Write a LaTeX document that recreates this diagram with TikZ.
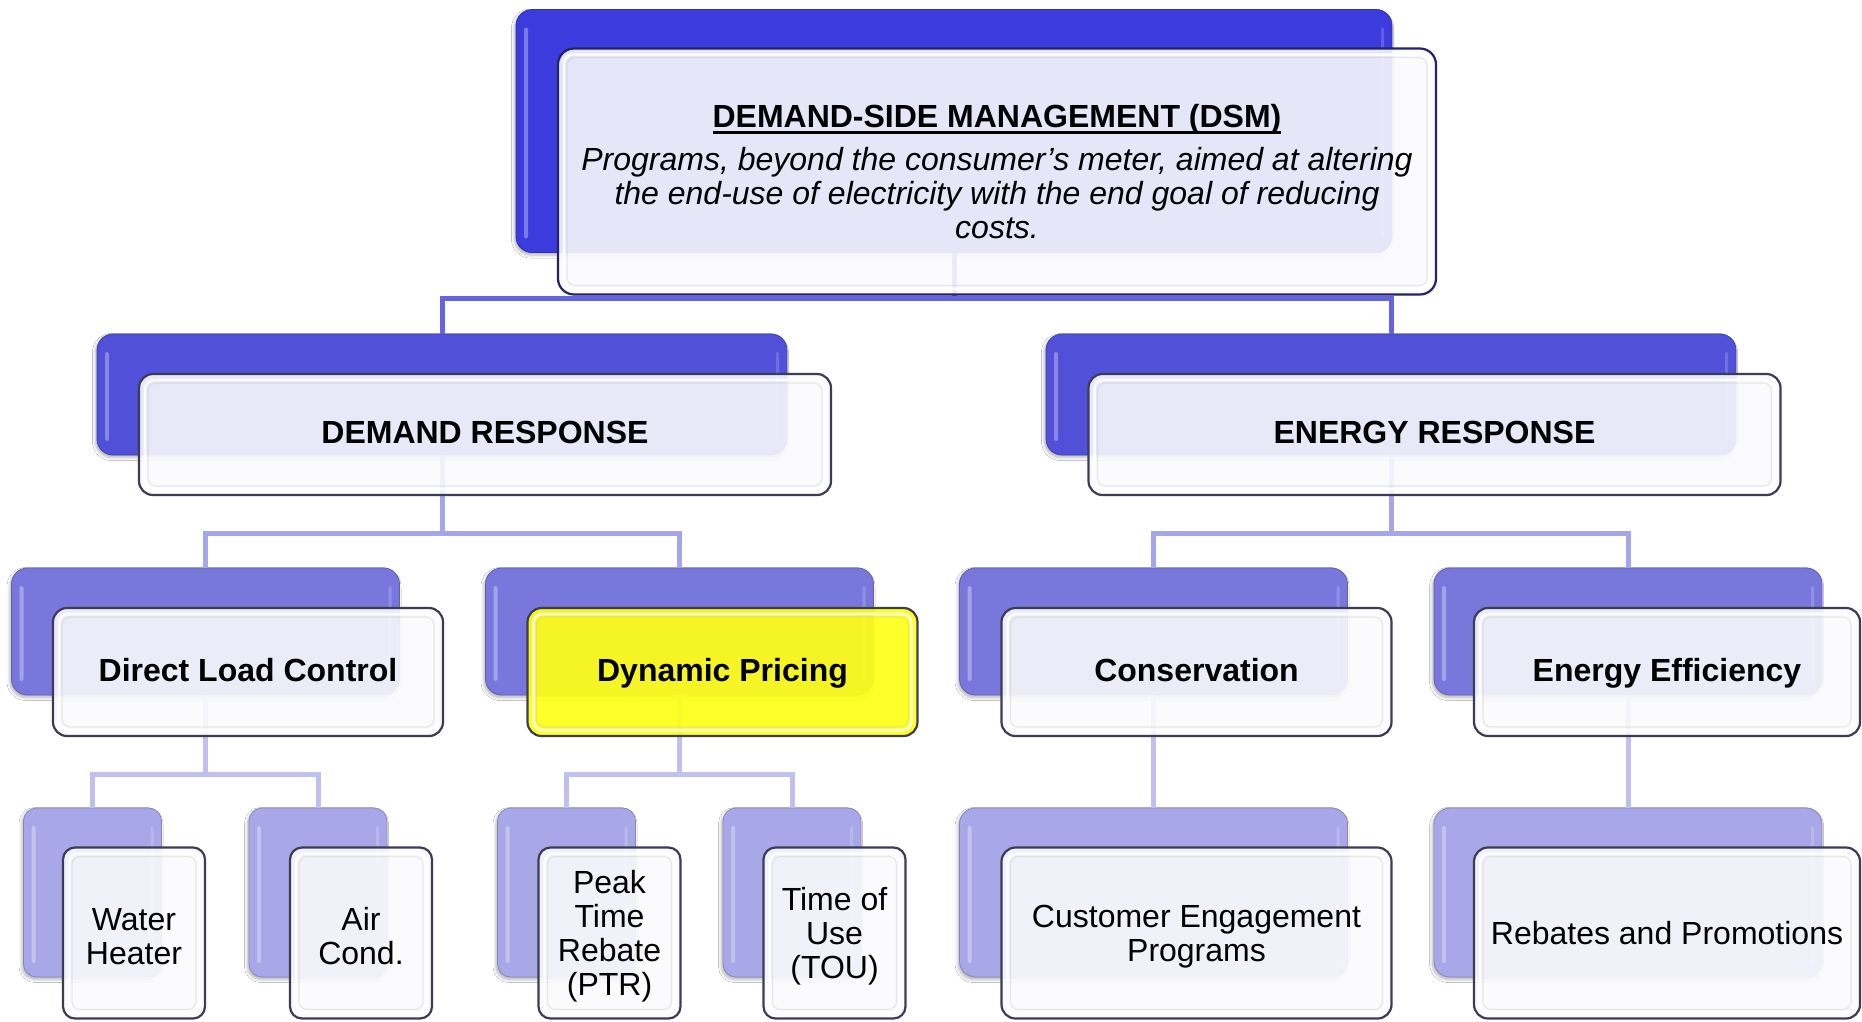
\documentclass[tikz,border=0pt]{standalone}
\usepackage{fontspec}
\setmainfont{Liberation Sans}
\usetikzlibrary{shadows.blur}

% level colours
\definecolor{lvA}{RGB}{60,60,222}
\definecolor{lvB}{RGB}{80,80,216}
\definecolor{lvC}{RGB}{120,120,220}
\definecolor{lvD}{RGB}{168,168,232}
\definecolor{lnA}{RGB}{100,100,226}
\definecolor{lnB}{RGB}{165,165,236}
\definecolor{lnC}{RGB}{192,192,240}
\definecolor{frameA}{RGB}{35,35,105}
\definecolor{frameB}{RGB}{60,60,85}
\definecolor{paper}{RGB}{251,251,253}
\definecolor{hiyellow}{RGB}{255,255,25}

% thick underline placed just below the baseline
\newcommand\ulined[1]{\setbox0\hbox{#1}\rlap{\rule[-6.5pt]{\wd0}{2.6pt}}\box0}
% invisible strut that gives the first line of a stacked label a little headroom
\newcommand\headroom{\rule{0pt}{29pt}}

\tikzset{
  backbox/.style={rectangle, rounded corners=16pt, inner sep=0pt, fill=#1, draw=#1!80!black, line width=0.8pt,
    blur shadow={shadow xshift=-1.5pt, shadow yshift=-2.5pt, shadow opacity=30, shadow blur steps=6, shadow blur radius=3pt},
    path picture={
      \fill[white, opacity=0.32, rounded corners=2pt]
        ([xshift=8pt,yshift=-18pt]path picture bounding box.north west) rectangle
        ([xshift=12pt,yshift=14pt]path picture bounding box.south west);
      \fill[white, opacity=0.18, rounded corners=2pt]
        ([xshift=-11pt,yshift=-18pt]path picture bounding box.north east) rectangle
        ([xshift=-8pt,yshift=14pt]path picture bounding box.south east);
    }},
  frontbox/.style={rectangle, rounded corners=14pt, inner sep=0pt, align=center,
    fill=paper, fill opacity=0.89, text opacity=1, draw=frameB, line width=2.2pt,
    font=\fontsize{32}{34}\selectfont,
    path picture={
      \draw[white, line width=2.5pt, opacity=0.85, rounded corners=9pt]
        ([shift={(6pt,-6pt)}]path picture bounding box.north west) rectangle
        ([shift={(-6pt,6pt)}]path picture bounding box.south east);
      \draw[black!25, line width=1.2pt, opacity=0.32, rounded corners=8pt]
        ([shift={(9pt,-9pt)}]path picture bounding box.north west) rectangle
        ([shift={(-9pt,9pt)}]path picture bounding box.south east);
    }},
  boldtext/.style={font=\fontsize{32}{34}\selectfont\bfseries, text height=23pt, text depth=5pt},
  link/.style={line width=5pt, draw=#1, line join=miter},
}

\begin{document}
\begin{tikzpicture}[x=1pt, y=-1pt]
\fill[white] (0,0) rectangle (1862,1021);
\useasboundingbox (0,0) rectangle (1862,1021);

% ---------- back plates ----------
\node[backbox=lvA, minimum width=876pt, minimum height=243pt] (topB) at (954,131) {};

\node[backbox=lvB, minimum width=690pt, minimum height=121pt] (drB) at (442,394.5) {};
\node[backbox=lvB, minimum width=690pt, minimum height=121pt] (erB) at (1391,394.5) {};

\node[backbox=lvC, minimum width=388pt, minimum height=127pt] (dlcB) at (205.5,631.5) {};
\node[backbox=lvC, minimum width=388pt, minimum height=127pt] (dpB) at (679.5,631.5) {};
\node[backbox=lvC, minimum width=388pt, minimum height=127pt] (consB) at (1153.5,631.5) {};
\node[backbox=lvC, minimum width=388pt, minimum height=127pt] (eeB) at (1628,631.5) {};

\node[backbox=lvD, rounded corners=13pt, minimum width=138pt, minimum height=169pt] (whB) at (92.5,892.5) {};
\node[backbox=lvD, rounded corners=13pt, minimum width=138pt, minimum height=169pt] (acB) at (318,892.5) {};
\node[backbox=lvD, rounded corners=13pt, minimum width=138pt, minimum height=169pt] (ptrB) at (566.5,892.5) {};
\node[backbox=lvD, rounded corners=13pt, minimum width=138pt, minimum height=169pt] (touB) at (792,892.5) {};
\node[backbox=lvD, minimum width=388pt, minimum height=169pt] (cepB) at (1153.5,892.5) {};
\node[backbox=lvD, minimum width=388pt, minimum height=169pt] (rpB) at (1628,892.5) {};

% ---------- connectors ----------
\draw[link=lnA] (topB.south) -- ++(0,46) -| (drB.north);
\draw[link=lnA] (topB.south) -- ++(0,46) -| (erB.north);

\draw[link=lnB] (drB.south) -- ++(0,78) -| (dlcB.north);
\draw[link=lnB] (drB.south) -- ++(0,78) -| (dpB.north);
\draw[link=lnB] (erB.south) -- ++(0,78) -| (consB.north);
\draw[link=lnB] (erB.south) -- ++(0,78) -| (eeB.north);

\draw[link=lnC] (dlcB.south) -- ++(0,79) -| (whB.north);
\draw[link=lnC] (dlcB.south) -- ++(0,79) -| (acB.north);
\draw[link=lnC] (dpB.south) -- ++(0,79) -| (ptrB.north);
\draw[link=lnC] (dpB.south) -- ++(0,79) -| (touB.north);
\draw[link=lnC] (consB.south) -- (cepB.north);
\draw[link=lnC] (eeB.south) -- (rpB.north);

% ---------- front cards ----------
\node[frontbox, draw=frameA, rounded corners=16pt, minimum width=878pt, minimum height=246pt] (top) at (997,171.5)
  {{\bfseries\ulined{DEMAND-SIDE MANAGEMENT (DSM)}}\\[9pt]
   {\itshape Programs, beyond the consumer’s meter, aimed at altering}\\
   {\itshape the end-use of electricity with the end goal of reducing}\\
   {\itshape costs.}};

\node[frontbox, boldtext, minimum width=692pt, minimum height=121pt] (dr) at (485,434.5) {DEMAND RESPONSE};
\node[frontbox, boldtext, minimum width=692pt, minimum height=121pt] (er) at (1434.5,434.5) {ENERGY RESPONSE};

\node[frontbox, boldtext, minimum width=390pt, minimum height=128pt] (dlc) at (248,672) {Direct Load Control};
\node[frontbox, boldtext, fill=hiyellow, fill opacity=0.93, minimum width=390pt, minimum height=128pt] (dp) at (722.5,672) {Dynamic Pricing};
\node[frontbox, boldtext, minimum width=390pt, minimum height=128pt] (cons) at (1196.5,672) {Conservation};
\node[frontbox, boldtext, minimum width=386pt, minimum height=128pt] (ee) at (1667,672) {Energy Efficiency};

\node[frontbox, rounded corners=12pt, minimum width=142pt, minimum height=171pt] (wh) at (134,933) {\headroom Water\\Heater};
\node[frontbox, rounded corners=12pt, minimum width=142pt, minimum height=171pt] (ac) at (361,933) {\headroom Air\\Cond.};
\node[frontbox, rounded corners=12pt, minimum width=142pt, minimum height=171pt] (ptr) at (609.5,933) {\headroom Peak\\Time\\Rebate\\(PTR)};
\node[frontbox, rounded corners=12pt, minimum width=142pt, minimum height=171pt] (tou) at (834.5,933) {\headroom Time of\\Use\\(TOU)};
\node[frontbox, minimum width=390pt, minimum height=171pt] (cep) at (1196.5,933) {\headroom Customer Engagement\\Programs};
\node[frontbox, minimum width=386pt, minimum height=171pt] (rp) at (1667,933) {Rebates and Promotions};
\end{tikzpicture}
\end{document}
